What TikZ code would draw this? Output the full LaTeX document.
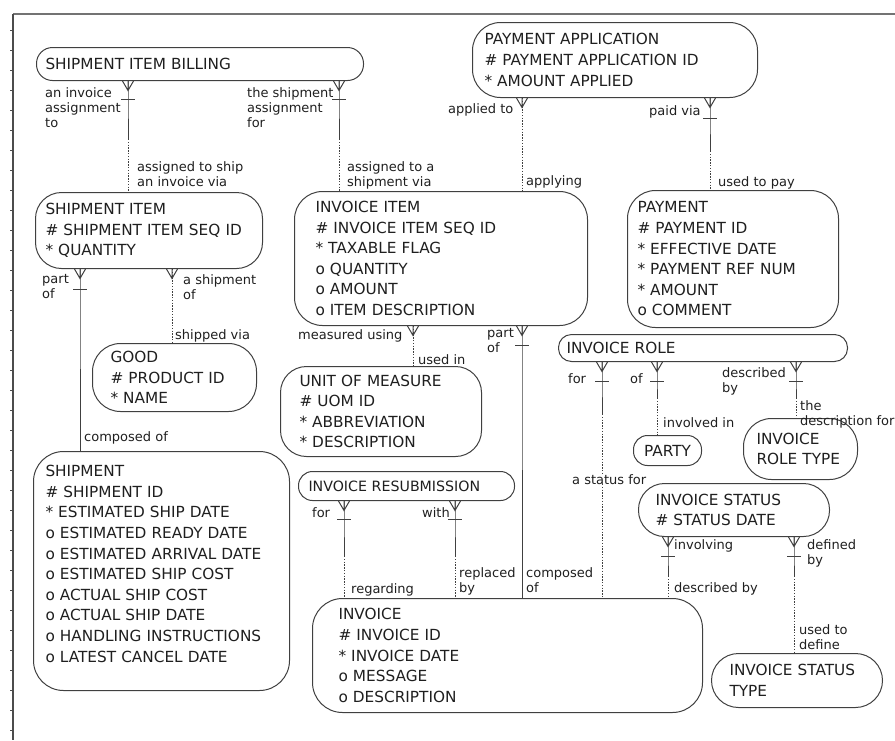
\documentclass[tikz,border=0pt]{standalone}
\usepackage{fontspec}
\setmainfont{DejaVu Sans}
\usetikzlibrary{positioning, calc}

\begin{document}
\begin{tikzpicture}[x=1pt, y=-1pt,
    entity/.style={rectangle, rounded corners=26pt, draw=black!75, line width=1pt, anchor=north west, align=left, inner ysep=0pt, text=black!88, font=\fontsize{15.3}{20.6}\selectfont},
    rlabel/.style={anchor=north west, inner sep=0pt, align=left, text=black!88, font=\fontsize{13}{15}\selectfont},
    solidpart/.style={draw=black!75, line width=1pt, solid},
    dottedpart/.style={draw=black!75, line width=1pt, dash pattern=on 1.4pt off 1.4pt},
    crowfoot/.pic={\draw[solidpart] (-5.5,0) -- (0,9.5) -- (5.5,0) (0,0) -- (0,9.5);},
    onebar/.pic={\draw[solidpart] (-7,0) -- (7,0);}
]
\useasboundingbox (0,0) rectangle (895,740);

% Frame
\draw[line width=2.5pt, black!55] (13,14) -- (895,14);
\draw[line width=2pt, black!70] (13,14) -- (13,740);
\foreach \ty in {30,50,...,730}
    \draw[line width=0.8pt, black!70] (10,\ty) -- (13,\ty);

% Entities
\node[entity, inner xsep=9pt, text width=309pt, minimum height=33pt, rounded corners=16pt] (billing) at (36,47) {\mbox{SHIPMENT ITEM BILLING}};
\node[entity, inner xsep=12pt, text width=261pt, minimum height=75pt, rounded corners=28pt] (payapp) at (472,22) {PAYMENT APPLICATION\\\# PAYMENT APPLICATION ID\\{*} AMOUNT APPLIED};
\node[entity, inner xsep=10pt, text width=207pt, minimum height=76pt] (shipitem) at (35,192) {SHIPMENT ITEM\\\# SHIPMENT ITEM SEQ ID\\{*} QUANTITY};
\node[entity, inner xsep=21pt, text width=251pt, minimum height=134pt, rounded corners=28pt] (invitem) at (294,191) {INVOICE ITEM\\\# INVOICE ITEM SEQ ID\\{*} TAXABLE FLAG\\o QUANTITY\\o AMOUNT\\o ITEM DESCRIPTION};
\node[entity, inner xsep=10pt, text width=191pt, minimum height=137pt, rounded corners=28pt] (payment) at (627,190) {PAYMENT\\\# PAYMENT ID\\{*} EFFECTIVE DATE\\{*} PAYMENT REF NUM\\{*} AMOUNT\\o COMMENT};
\node[entity, inner xsep=18pt, text width=128pt, minimum height=68pt, rounded corners=28pt] (good) at (92,343) {GOOD\\\# PRODUCT ID\\{*} NAME};
\node[entity, inner xsep=19pt, text width=163pt, minimum height=90pt] (uom) at (280,366) {UNIT OF MEASURE\\\# UOM ID\\{*} ABBREVIATION\\{*} DESCRIPTION};
\node[entity, inner xsep=8pt, text width=273pt, minimum height=27pt, rounded corners=13pt] (invrole) at (558,334) {\mbox{INVOICE ROLE}};
\node[entity, inner xsep=7pt, minimum width=68pt, minimum height=30pt, rounded corners=14pt] (party) at (633,435) {PARTY};
\node[entity, inner xsep=13pt, text width=88pt, minimum height=61pt, rounded corners=28pt] (roletype) at (743,418) {INVOICE\\\mbox{ROLE TYPE}};
\node[entity, inner xsep=12pt, text width=232pt, minimum height=239pt, rounded corners=30pt] (shipment) at (33,451) {SHIPMENT\\\# SHIPMENT ID\\{*} ESTIMATED SHIP DATE\\o ESTIMATED READY DATE\\o ESTIMATED ARRIVAL DATE\\o ESTIMATED SHIP COST\\o ACTUAL SHIP COST\\o ACTUAL SHIP DATE\\\mbox{o HANDLING INSTRUCTIONS}\\o LATEST CANCEL DATE\\[-6pt]\mbox{}};
\node[entity, inner xsep=10pt, text width=196pt, minimum height=29pt, rounded corners=14pt, font=\fontsize{14.2}{20}\selectfont] (resubmit) at (298,471) {\mbox{INVOICE RESUBMISSION}};
\node[entity, inner xsep=17pt, text width=157pt, minimum height=53pt] (status) at (638,483) {INVOICE STATUS\\\# STATUS DATE};
\node[entity, inner xsep=26pt, text width=338pt, minimum height=114pt, rounded corners=30pt] (invoice) at (312,598) {INVOICE\\\# INVOICE ID\\{*} INVOICE DATE\\o MESSAGE\\o DESCRIPTION};
\node[entity, inner xsep=18pt, text width=135pt, minimum height=54pt, rounded corners=27pt] (statustype) at (711,653) {\mbox{INVOICE STATUS}\\TYPE};

% Line positions
\coordinate (xA) at (128,0);
\coordinate (xB) at (339,0);
\coordinate (xC) at (522,0);
\coordinate (xD) at (710,0);
\coordinate (xE) at (80,0);
\coordinate (xF) at (172,0);
\coordinate (xG) at (413,0);
\coordinate (xI) at (602,0);
\coordinate (xJ) at (657,0);
\coordinate (xK) at (796,0);
\coordinate (xL) at (344,0);
\coordinate (xM) at (455,0);
\coordinate (xN) at (668,0);
\coordinate (xO) at (794,0);

% Relationships
\draw[solidpart] (billing.south -| xA) pic {crowfoot} -- ++(0,18) pic {onebar} -- ++(0,40) coordinate (sA);
\draw[dottedpart] (sA) -- (shipitem.north -| xA);
\draw[solidpart] (billing.south -| xB) pic {crowfoot} -- ++(0,18) pic {onebar} -- ++(0,40) coordinate (sB);
\draw[dottedpart] (sB) -- (invitem.north -| xB);
\draw[dottedpart] (payapp.south -| xC) pic {crowfoot} -- (invitem.north -| xC);
\draw[solidpart] (payapp.south -| xD) pic {crowfoot} -- ++(0,20) pic {onebar} -- ++(0,33) coordinate (sD);
\draw[dottedpart] (sD) -- (payment.north -| xD);
\draw[solidpart] (shipitem.south -| xE) pic {crowfoot} -- ++(0,20) pic {onebar} -- (shipment.north -| xE);
\draw[dottedpart] (shipitem.south -| xF) pic {crowfoot} -- (good.north -| xF);
\draw[dottedpart] (invitem.south -| xG) pic {crowfoot} -- (uom.north -| xG);
\draw[solidpart] (invitem.south -| xC) pic {crowfoot} -- ++(0,19) pic {onebar} -- (invoice.north -| xC);
\draw[solidpart] (invrole.south -| xI) pic {crowfoot} -- ++(0,19) pic {onebar} -- ++(0,33) coordinate (sI);
\draw[dottedpart] (sI) -- (invoice.north -| xI);
\draw[solidpart] (invrole.south -| xJ) pic {crowfoot} -- ++(0,19) pic {onebar} -- ++(0,17) coordinate (sJ);
\draw[dottedpart] (sJ) -- (party.north -| xJ);
\draw[solidpart] (invrole.south -| xK) pic {crowfoot} -- ++(0,19) pic {onebar} -- ++(0,17) coordinate (sK);
\draw[dottedpart] (sK) -- (roletype.north -| xK);
\draw[solidpart] (resubmit.south -| xL) pic {crowfoot} -- ++(0,18) pic {onebar} -- ++(0,37) coordinate (sL);
\draw[dottedpart] (sL) -- (invoice.north -| xL);
\draw[solidpart] (resubmit.south -| xM) pic {crowfoot} -- ++(0,18) pic {onebar} -- ++(0,37) coordinate (sM);
\draw[dottedpart] (sM) -- (invoice.north -| xM);
\draw[solidpart] (status.south -| xN) pic {crowfoot} -- ++(0,19) pic {onebar} -- ++(0,20) coordinate (sN);
\draw[dottedpart] (sN) -- (invoice.north -| xN);
\draw[solidpart] (status.south -| xO) pic {crowfoot} -- ++(0,19) pic {onebar} -- ++(0,20) coordinate (sO);
\draw[dottedpart] (sO) -- (statustype.north -| xO);

% Relationship labels
\node[rlabel] (lbA1) at (45,87) {an invoice\\assignment\\to};
\node[rlabel] (lbA2) at (137,161) {assigned to ship\\an invoice via};
\node[rlabel] (lbB1) at (247,87) {the shipment\\assignment\\for};
\node[rlabel] (lbB2) at (347,161) {assigned to a\\shipment via};
\node[rlabel] (lbC1) at (448,103) {applied to};
\node[rlabel] (lbC2) at (526,175) {applying};
\node[rlabel] (lbD1) at (649,105) {paid via};
\node[rlabel] (lbD2) at (718,176) {used to pay};
\node[rlabel] (lbE1) at (42,274) {part\\of};
\node[rlabel] (lbE2) at (84,431) {composed of};
\node[rlabel] (lbF1) at (183,274) {a shipment\\of};
\node[rlabel] (lbF2) at (175,329) {shipped via};
\node[rlabel] (lbG1) at (298,329) {measured using};
\node[rlabel] (lbG2) at (418,354) {used in};
\node[rlabel] (lbH1) at (487,328) {part\\of};
\node[rlabel] (lbH2) at (526,567) {composed\\of};
\node[rlabel] (lbI1) at (568,373) {for};
\node[rlabel, fill=white, inner xsep=1pt] (lbI2) at (571,474) {a status for};
\node[rlabel] (lbJ1) at (630,373) {of};
\node[rlabel] (lbJ2) at (663,417) {involved in};
\node[rlabel] (lbK1) at (722,367) {described\\by};
\node[rlabel] (lbK2) at (800,400) {the\\description for};
\node[rlabel] (lbL1) at (312,507) {for};
\node[rlabel] (lbL2) at (351,583) {regarding};
\node[rlabel] (lbM1) at (422,507) {with};
\node[rlabel] (lbM2) at (459,567) {replaced\\by};
\node[rlabel] (lbN1) at (674,539) {involving};
\node[rlabel] (lbN2) at (674,582) {described by};
\node[rlabel] (lbO1) at (807,539) {defined\\by};
\node[rlabel] (lbO2) at (799,624) {used to\\define};

\end{tikzpicture}
\end{document}
